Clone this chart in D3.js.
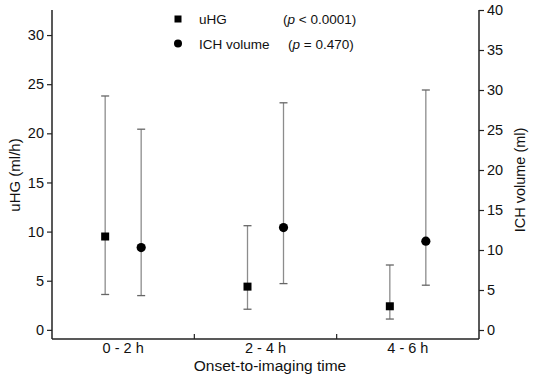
<!DOCTYPE html>
<html><head><meta charset="utf-8">
<script src="https://cdn.jsdelivr.net/npm/d3@7"></script>
<style>body{margin:0;background:#fff}svg{display:block;font-family:Arial,"Liberation Sans",sans-serif}</style>
</head><body><svg id="c" width="536" height="380"></svg>
<script>
const categories = ["0 - 2 h", "2 - 4 h", "4 - 6 h"];
const uhgMedian = [9.5, 4.4, 2.4];
const uhgLow    = [3.6, 2.1, 1.1];
const uhgHigh   = [23.8, 10.6, 6.6];
const ichMedian = [10.3, 12.8, 11.1];
const ichLow    = [4.3, 5.8, 5.6];
const ichHigh   = [25.1, 28.4, 30.0];
const leftTicks = [0, 5, 10, 15, 20, 25, 30];
const rightTicks = [0, 5, 10, 15, 20, 25, 30, 35, 40];

const svg = d3.select("#c");
const L = 52, R = 479, T = 10, B = 339;
const x = d3.scaleBand().domain(categories).range([L, R]).padding(0);
const yL = d3.scaleLinear().domain([-0.93, 32.55]).range([B, T]);
const yR = d3.scaleLinear().domain([-1.125, 40]).range([B, T]);
const axisCol = "#222", barCol = "#8c8c8c";
const FONT = "Arial, 'Liberation Sans', sans-serif";

// Error bars + markers
const off = 18, cap = 4;
function bars(med, lo, hi, y, dx, shape) {
  const g = svg.append("g");
  categories.forEach((c, i) => {
    const cx = x(c) + x.bandwidth() / 2 + dx;
    g.append("line").attr("x1", cx).attr("x2", cx).attr("y1", y(lo[i])).attr("y2", y(hi[i]))
      .attr("stroke", barCol).attr("stroke-width", 1.3);
    [lo[i], hi[i]].forEach(v => g.append("line").attr("x1", cx - cap).attr("x2", cx + cap)
      .attr("y1", y(v)).attr("y2", y(v)).attr("stroke", "#666").attr("stroke-width", 1.3));
    if (shape === "sq") g.append("rect").attr("x", cx - 4).attr("y", y(med[i]) - 4).attr("width", 8).attr("height", 8).attr("fill", "#000");
    else g.append("circle").attr("cx", cx).attr("cy", y(med[i])).attr("r", 4.6).attr("fill", "#000");
  });
}
bars(uhgMedian, uhgLow, uhgHigh, yL, -off, "sq");
bars(ichMedian, ichLow, ichHigh, yR, off, "ci");

// Axes
const la = svg.append("g").attr("transform", `translate(${L},0)`)
  .call(d3.axisLeft(yL).tickValues(leftTicks).tickSize(5).tickPadding(3));
const ra = svg.append("g").attr("transform", `translate(${R},0)`)
  .call(d3.axisRight(yR).tickValues(rightTicks).tickSize(5).tickPadding(3));
const ba = svg.append("g").attr("transform", `translate(0,${B})`)
  .call(d3.axisBottom(x).tickSize(0).tickPadding(4));
[la, ra, ba].forEach(a => {
  a.select(".domain").attr("stroke", axisCol).attr("stroke-width", 1.5);
  a.selectAll(".tick line").attr("stroke", axisCol).attr("stroke-width", 1.2);
  a.selectAll("text").attr("font-size", 14.5).attr("fill", "#111").attr("font-family", FONT);
});
la.select(".domain").attr("d", `M0,${T}V${B}`);
ra.select(".domain").attr("d", `M0,${T}V${B}`);
ba.select(".domain").attr("d", `M${L},0H${R}`);
categories.slice(1).forEach(c => {
  svg.append("line").attr("x1", x(c)).attr("x2", x(c)).attr("y1", B).attr("y2", B - 5)
    .attr("stroke", axisCol).attr("stroke-width", 1.2);
});

// Axis titles
svg.append("text").attr("transform", `translate(20,175) rotate(-90)`)
  .attr("text-anchor", "middle").attr("font-size", 15).attr("fill", "#111").text("uHG (ml/h)");
svg.append("text").attr("transform", `translate(525,180) rotate(-90)`)
  .attr("text-anchor", "middle").attr("font-size", 14.5).attr("fill", "#111").text("ICH volume (ml)");
svg.append("text").attr("x", 270).attr("y", 371).attr("text-anchor", "middle")
  .attr("font-size", 15.5).attr("fill", "#111").text("Onset-to-imaging time");

// Legend
const lg = svg.append("g").attr("font-size", 13.5).attr("fill", "#111");
lg.append("rect").attr("x", 174.5).attr("y", 15.5).attr("width", 7).attr("height", 7).attr("fill", "#000");
lg.append("circle").attr("cx", 178).attr("cy", 43.5).attr("r", 4).attr("fill", "#000");
lg.append("text").attr("x", 199).attr("y", 24).text("uHG");
lg.append("text").attr("x", 199).attr("y", 48.5).text("ICH volume");
const t1 = lg.append("text").attr("x", 283).attr("y", 24);
t1.append("tspan").text("(");
t1.append("tspan").attr("font-style", "italic").text("p");
t1.append("tspan").text(" < 0.0001)");
const t2 = lg.append("text").attr("x", 288).attr("y", 48.5);
t2.append("tspan").text("(");
t2.append("tspan").attr("font-style", "italic").text("p");
t2.append("tspan").text(" = 0.470)");
</script></body></html>
